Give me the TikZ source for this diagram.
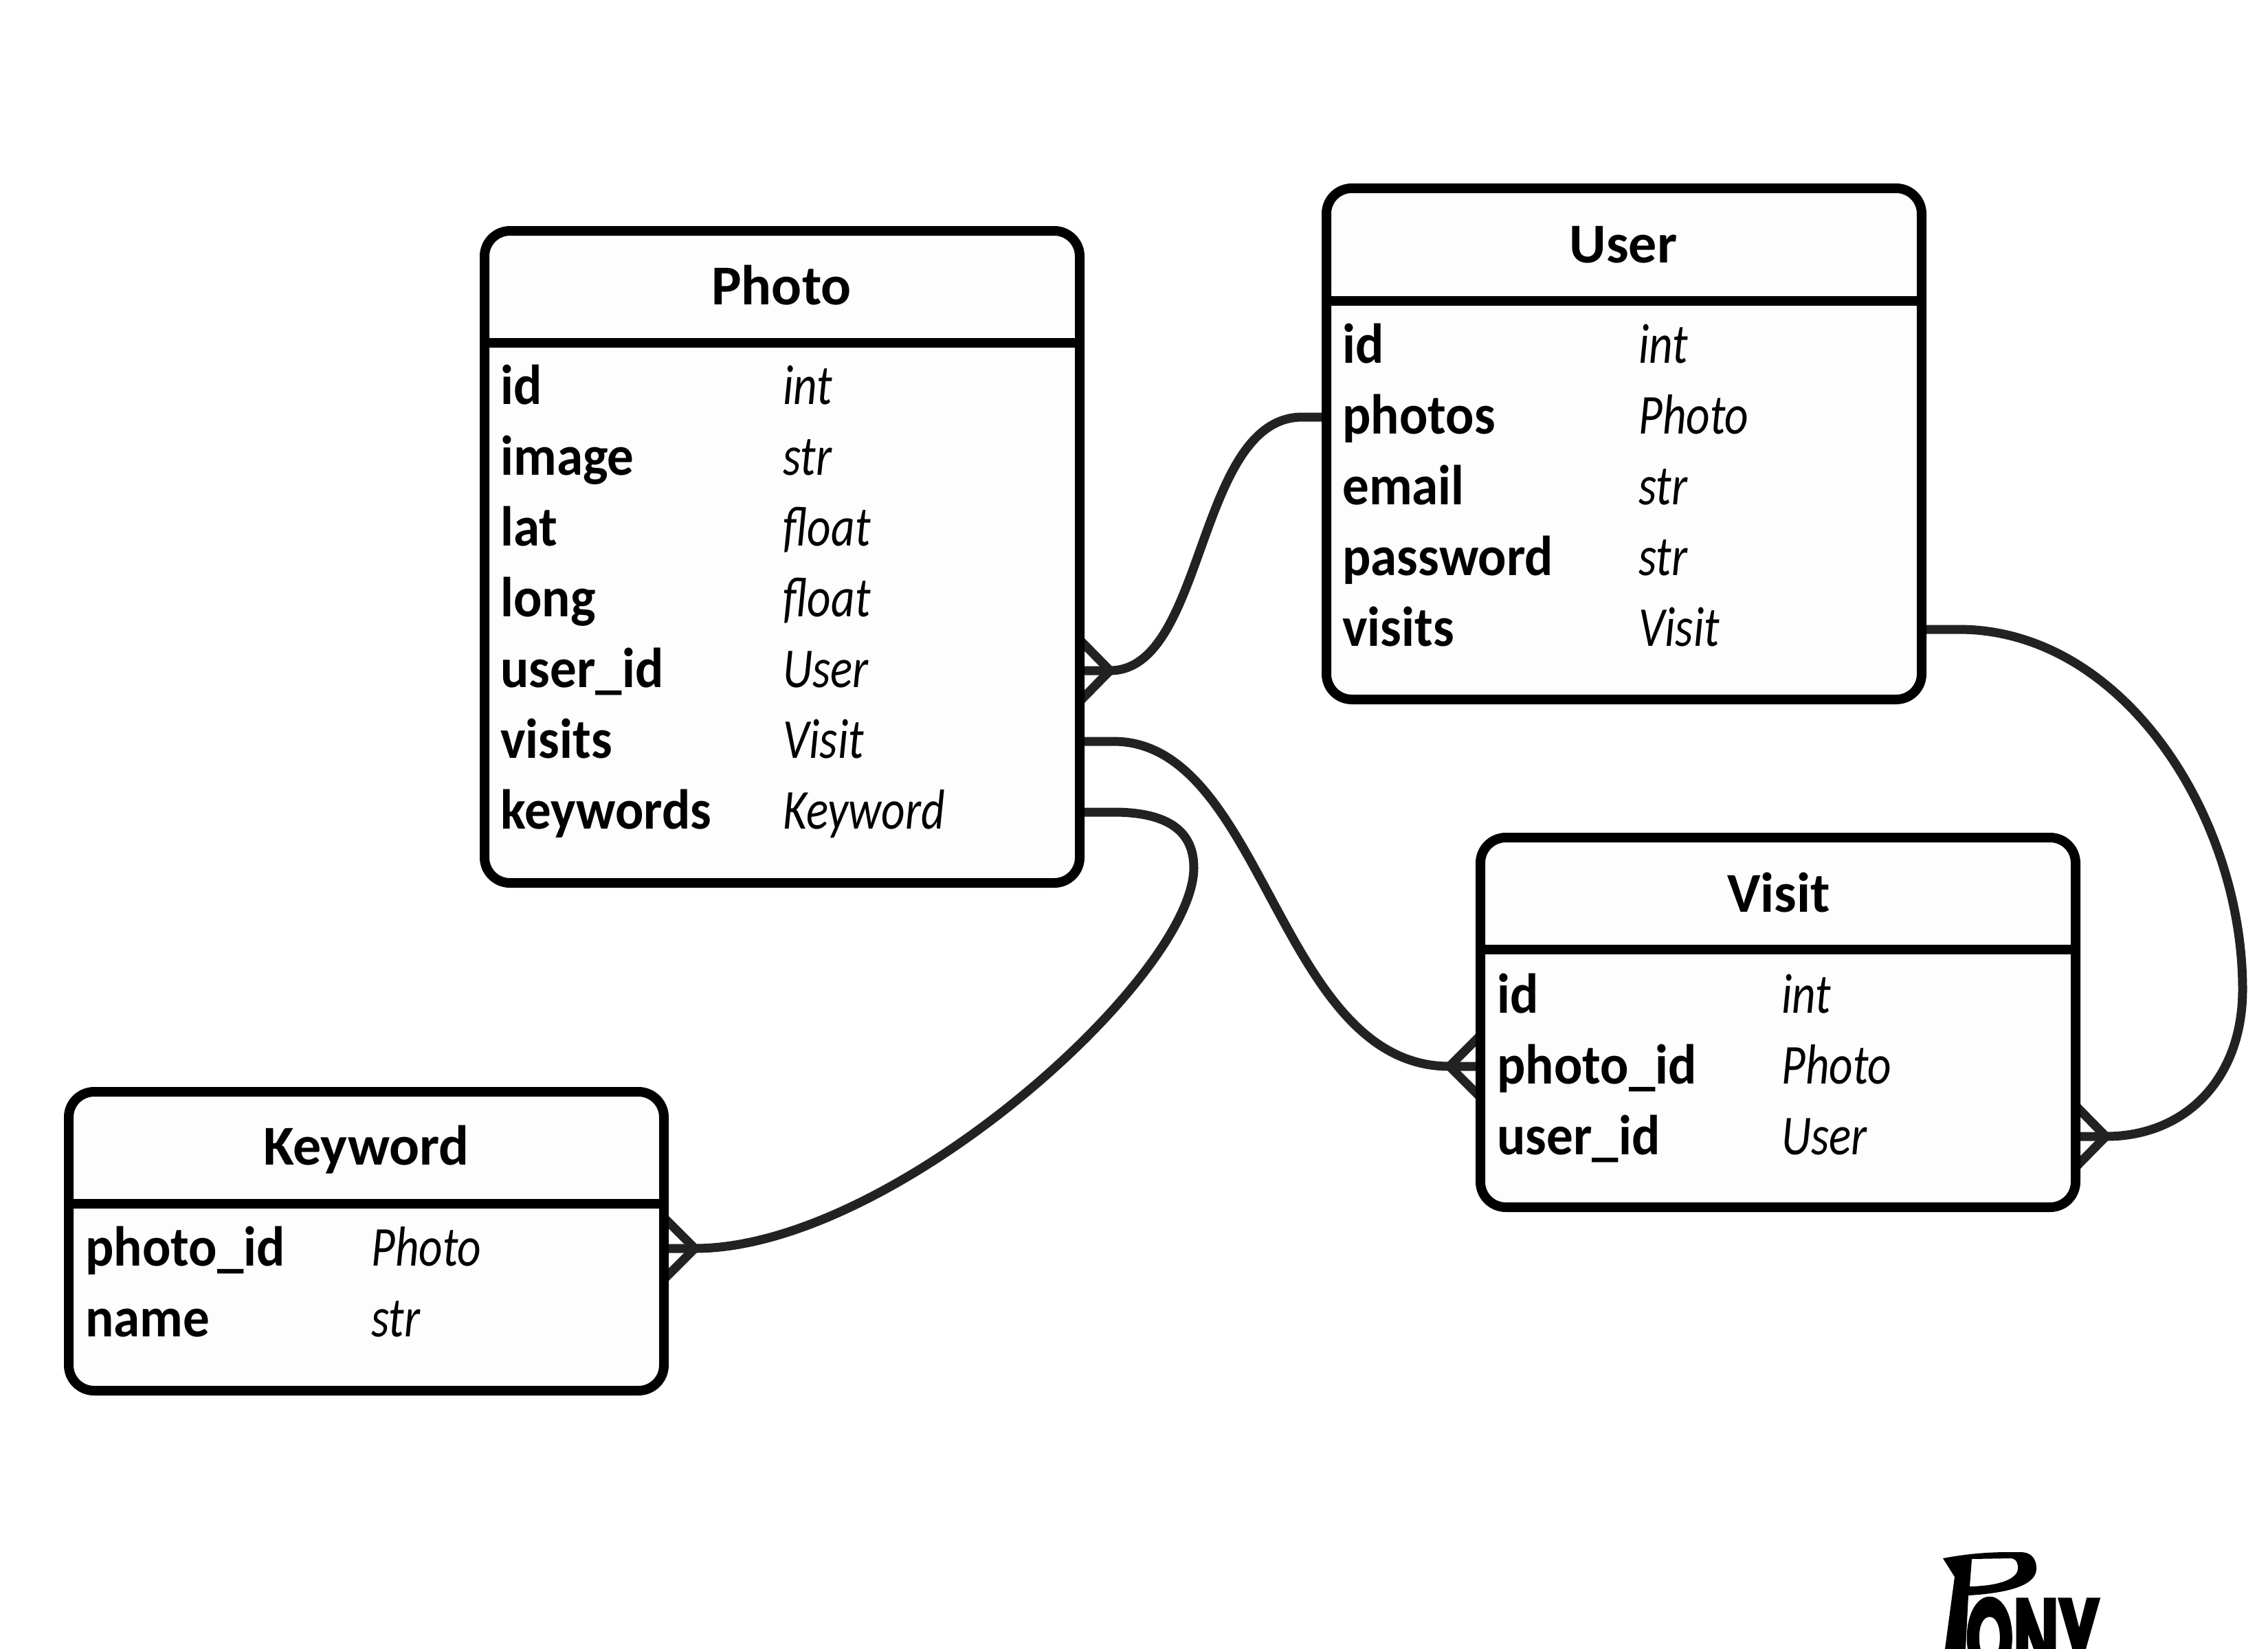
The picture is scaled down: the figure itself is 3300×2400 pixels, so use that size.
\documentclass[tikz,border=0pt]{standalone}
\usepackage{fontspec}
\usetikzlibrary{calc,backgrounds}
\setmainfont{Carlito}
\newfontfamily\rowfont{Carlito}[BoldFeatures={FakeStretch=0.94},ItalicFeatures={FakeStretch=0.82}]
\newfontfamily\logofont{Poppins}[BoldFeatures={FakeBold=3}]
\definecolor{boxfill}{HTML}{FDFDFD}
\definecolor{linkcol}{HTML}{222222}
\tikzset{
  tablebox/.style={draw=black,line width=7pt,fill=boxfill,rounded corners=18.5pt,minimum width=433pt,anchor=north west},
  rule/.style={line width=7pt,draw=black},
  titletext/.style={anchor=base,font=\fontsize{41pt}{41pt}\selectfont\bfseries,inner sep=0pt},
  attrname/.style={anchor=base west,font=\rowfont\fontsize{41pt}{41pt}\selectfont\bfseries,inner sep=0pt},
  attrtype/.style={anchor=base west,font=\rowfont\fontsize{41pt}{41pt}\selectfont\itshape,inner sep=0pt},
  link/.style={draw=linkcol,line width=6.5pt},
  foot/.style={draw=linkcol,line width=6.5pt,line join=bevel}
}
\begin{document}
\begin{tikzpicture}[x=0.5pt,y=-0.5pt]
\useasboundingbox (0,0) rectangle (3300,2400);
% Photo
\node[tablebox,minimum height=474.5pt] (photo) at (698,329) {};
\coordinate (phr) at (705,499);
\draw[rule] (photo.west |- phr) -- (photo.east |- phr);
\node[titletext] (tphoto) at (1137,443) {Photo};
\node[attrname] (p1) at (728,588) {id};       \node[attrtype] (pt1) at (1139,588) {int};
\node[attrname] (p2) at (728,691) {image};    \node[attrtype] (pt2) at (1139,691) {str};
\node[attrname] (p3) at (728,794) {lat};      \node[attrtype] (pt3) at (1139,794) {float};
\node[attrname] (p4) at (728,897) {long};     \node[attrtype] (pt4) at (1139,897) {float};
\node[attrname] (p5) at (728,1000) {user\_id}; \node[attrtype] (pt5) at (1139,1000) {User};
\node[attrname] (p6) at (728,1103) {visits};  \node[attrtype] (pt6) at (1139,1103) {Visit};
\node[attrname] (p7) at (728,1206) {keywords};\node[attrtype] (pt7) at (1139,1206) {Keyword};
% User
\node[tablebox,minimum height=372pt] (user) at (1923,267) {};
\coordinate (uhr) at (1930,438);
\draw[rule] (user.west |- uhr) -- (user.east |- uhr);
\node[titletext] (tuser) at (2362,382) {User};
\node[attrname] (u1) at (1953,528) {id};       \node[attrtype] (ut1) at (2384,528) {int};
\node[attrname] (u2) at (1953,631) {photos};   \node[attrtype] (ut2) at (2384,631) {Photo};
\node[attrname] (u3) at (1953,734) {email};    \node[attrtype] (ut3) at (2384,734) {str};
\node[attrname] (u4) at (1953,837) {password}; \node[attrtype] (ut4) at (2384,837) {str};
\node[attrname] (u5) at (1953,940) {visits};   \node[attrtype] (ut5) at (2384,940) {Visit};
% Visit
\node[tablebox,minimum height=269pt] (visit) at (2147,1212) {};
\coordinate (vhr) at (2154,1382);
\draw[rule] (visit.west |- vhr) -- (visit.east |- vhr);
\node[titletext] (tvisit) at (2588,1327) {Visit};
\node[attrname] (v1) at (2178,1474) {id};       \node[attrtype] (vt1) at (2592,1474) {int};
\node[attrname] (v2) at (2178,1577) {photo\_id}; \node[attrtype] (vt2) at (2592,1577) {Photo};
\node[attrname] (v3) at (2178,1680) {user\_id};  \node[attrtype] (vt3) at (2592,1680) {User};
% Keyword
\node[tablebox,minimum height=217.5pt] (keyword) at (93,1582) {};
\coordinate (khr) at (100,1752);
\draw[rule] (keyword.west |- khr) -- (keyword.east |- khr);
\node[titletext] (tkeyword) at (533,1695) {Keyword};
\node[attrname] (k1) at (124,1842) {photo\_id}; \node[attrtype] (kt1) at (540,1842) {Photo};
\node[attrname] (k2) at (124,1945) {name};      \node[attrtype] (kt2) at (540,1945) {str};
% end points
\coordinate (photoUserEnd) at (photo.east |- 0,976);
\coordinate (photoVisitEnd) at (photo.east |- 0,1079);
\coordinate (photoKeywordEnd) at (photo.east |- 0,1182);
\coordinate (userPhotosEnd) at (user.west |- 0,607);
\coordinate (userVisitsEnd) at (user.east |- 0,916);
\coordinate (visitPhotoEnd) at (visit.west |- 0,1552);
\coordinate (visitUserEnd) at (visit.east |- 0,1654);
\coordinate (keywordPhotoEnd) at (keyword.east |- 0,1817);
\coordinate (tipA) at (1615,976);
\coordinate (tipB) at (2109,1552);
\coordinate (tipC) at (3064,1654);
\coordinate (tipD) at (1011,1817);
% connectors
\begin{pgfonlayer}{background}
\draw[link] (photoUserEnd) -- (tipA) .. controls (1755,976) and (1740,607) .. (1895,607) -- (userPhotosEnd);
\draw[link] (photoVisitEnd) -- (1620,1079) .. controls (1840,1079) and (1860,1552) .. (tipB) -- (visitPhotoEnd);
\draw[link] (photoKeywordEnd) -- (1620,1182) .. controls (1700,1182) and (1737,1210) .. (1737,1263) .. controls (1737,1420) and (1300,1817) .. (tipD) -- (keywordPhotoEnd);
\draw[link] (userVisitsEnd) -- (2850,916) .. controls (3090,916) and (3263,1190) .. (3263,1440) .. controls (3263,1570) and (3180,1654) .. (tipC) -- (visitUserEnd);
% crow's feet, run on under the table edges
\draw[foot] ($(photoUserEnd)+(-14,-52)$) -- (tipA) -- ($(photoUserEnd)+(-14,52)$);
\draw[foot] ($(visitPhotoEnd)+(14,-52)$) -- (tipB) -- ($(visitPhotoEnd)+(14,52)$);
\draw[foot] ($(visitUserEnd)+(-14,-52)$) -- (tipC) -- ($(visitUserEnd)+(-14,52)$);
\draw[foot] ($(keywordPhotoEnd)+(-14,-52)$) -- (tipD) -- ($(keywordPhotoEnd)+(-14,52)$);
\end{pgfonlayer}
% logo
\begin{scope}
\clip (0,0) rectangle (3300,2400);
\fill[black,even odd rule] (2827,2268) .. controls (2880,2258) and (2915,2259) .. (2940,2259)
  .. controls (2952,2259) and (2963,2265) .. (2963,2283)
  .. controls (2963,2305) and (2930,2318) .. (2864,2322)
  -- (2860,2400) -- (2830,2400) -- (2844,2295) -- cycle
  (2869,2269) -- (2925,2268) .. controls (2935,2268) and (2937,2278) .. (2936,2284)
  .. controls (2934,2298) and (2910,2308) .. (2866,2309) -- cycle;
\fill[white] (2882,2283) ellipse (3.4 and 7);
\fill[white] (2895,2281) ellipse (3.4 and 7);
\node[anchor=base west,inner sep=0pt,xscale=0.55,font=\logofont\fontsize{80pt}{80pt}\selectfont\bfseries] (logotext) at (2860,2440) {ONY};
\end{scope}
\end{tikzpicture}
\end{document}
